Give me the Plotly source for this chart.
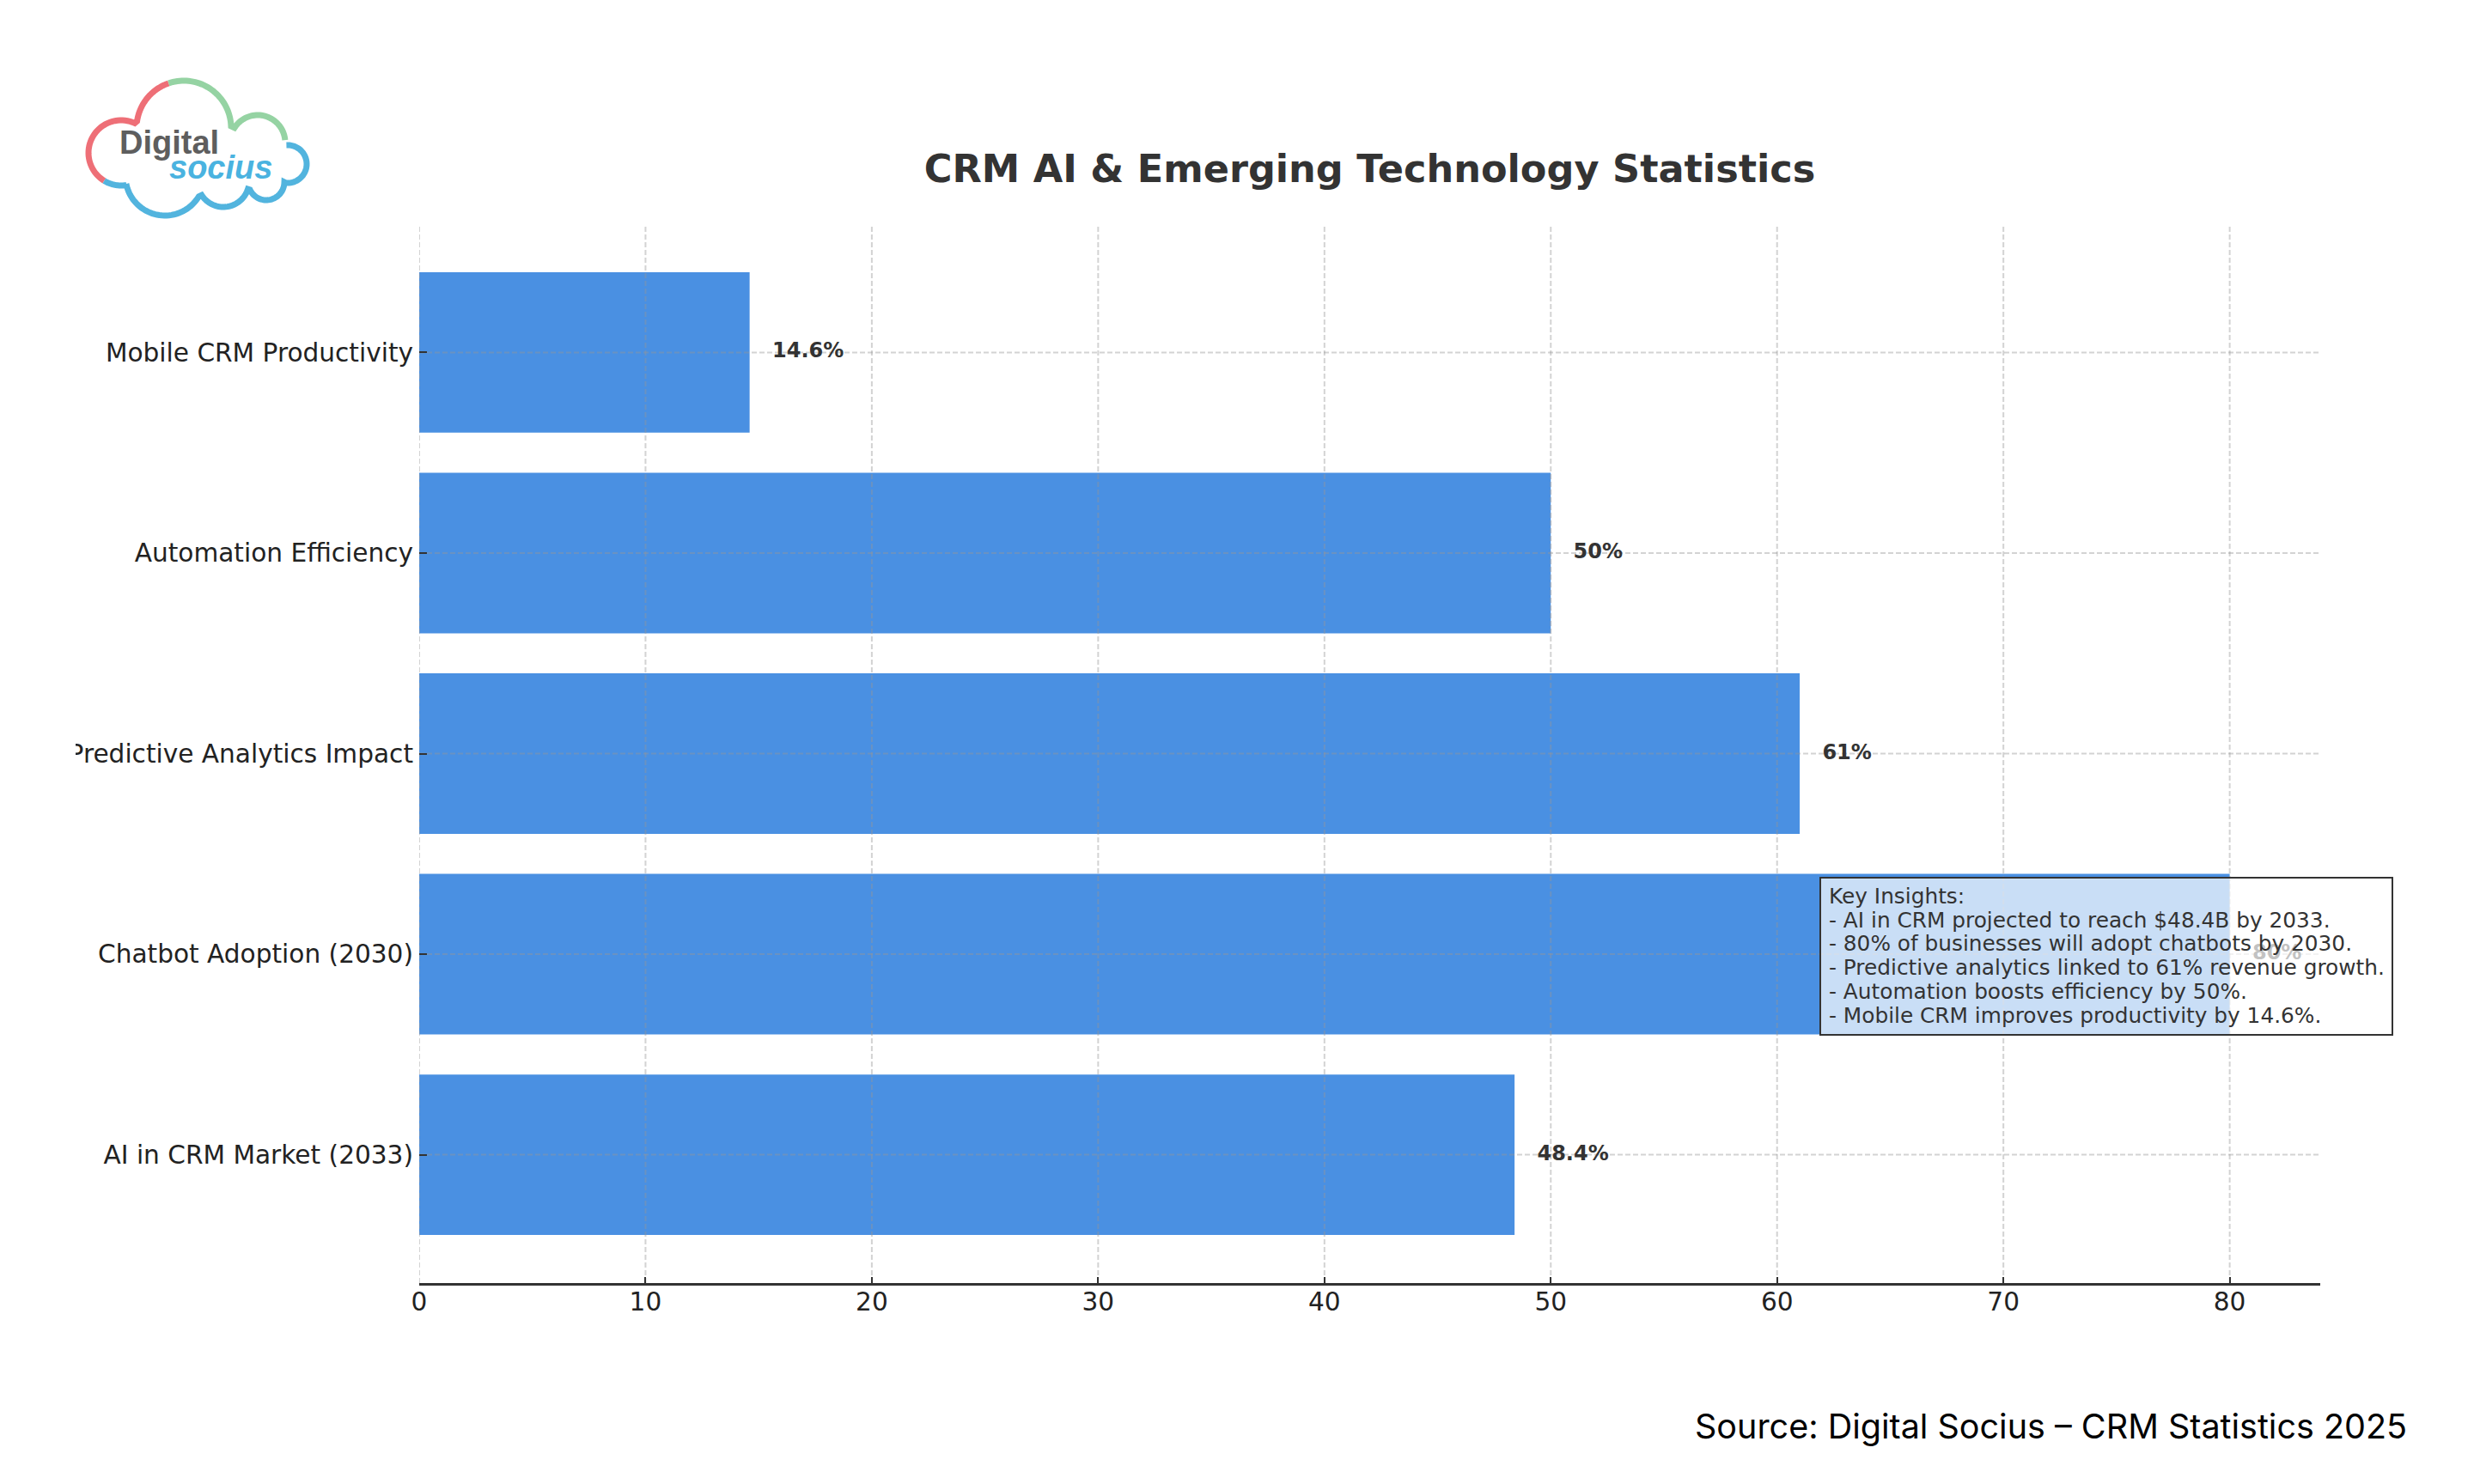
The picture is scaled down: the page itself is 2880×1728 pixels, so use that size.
import numpy as np
import plotly.graph_objects as go

# ---------------- data ----------------
categories = [
    "AI in CRM Market (2033)",
    "Chatbot Adoption (2030)",
    "Predictive Analytics Impact",
    "Automation Efficiency",
    "Mobile CRM Productivity",
]
values = [48.4, 80, 61, 50, 14.6]
x_ticks = [0, 10, 20, 30, 40, 50, 60, 70, 80]
title_text = "CRM AI & Emerging Technology Statistics"
insight_lines = [
    "Key Insights:",
    "- AI in CRM projected to reach $48.4B by 2033.",
    "- 80% of businesses will adopt chatbots by 2030.",
    "- Predictive analytics linked to 61% revenue growth.",
    "- Automation boosts efficiency by 50%.",
    "- Mobile CRM improves productivity by 14.6%.",
]
source_text = "Source: Digital Socius \u2013 CRM Statistics 2025"

# ---------------- layout geometry ----------------
W, H = 2880, 1728
L, R, T, B = 488, 179, 261, 234
PW = W - L - R
PH = H - T - B


def px(x):
    return (x - L) / PW


def py(y):
    return (H - B - y) / PH


n = len(categories)
y_pos = list(range(n))
bar_w = 0.8
x_max = max(values) * 1.05
span = (n - 1) + bar_w
y_lo = -bar_w / 2 - 0.05 * span
y_hi = (n - 1) + bar_w / 2 + 0.05 * span

BAR = "#4A90E2"
TXT = "#333333"

fig = go.Figure()

fig.add_trace(go.Bar(
    x=values, y=y_pos, orientation="h", width=bar_w,
    marker=dict(color=BAR, line=dict(width=0)),
    hoverinfo="skip", showlegend=False,
))

# grid drawn above the bars (as in the reference)
gx, gy = [], []
for v in x_ticks:
    gx += [v, v, None]
    gy += [y_lo, y_hi, None]
for p in y_pos:
    gx += [0, x_max, None]
    gy += [p, p, None]
fig.add_trace(go.Scatter(
    x=gx, y=gy, mode="lines",
    line=dict(color="rgba(150,150,150,0.42)", width=2, dash="6px,3px"),
    hoverinfo="skip", showlegend=False,
))

# value labels
fig.add_trace(go.Scatter(
    x=[v + 1 for v in values], y=y_pos, mode="text",
    text=[f"{v:g}%" for v in values],
    textposition="middle right",
    textfont=dict(family="DejaVu Sans", size=24, color=TXT, weight="bold"),
    hoverinfo="skip", showlegend=False, cliponaxis=False,
))

shapes = []
annotations = []

# insights box (semi-transparent, above bars and labels)
shapes.append(dict(
    type="rect", xref="paper", yref="paper", layer="above",
    x0=px(2119), x1=px(2785), y0=py(1205), y1=py(1022),
    fillcolor="rgba(255,255,255,0.7)", line=dict(color="#333333", width=2),
))
line_gap = 27.7
for i, s in enumerate(insight_lines):
    base = 1052 + i * line_gap
    annotations.append(dict(
        xref="paper", yref="paper", x=px(2127), y=py(base - 8.5),
        xanchor="left", yanchor="middle", showarrow=False, text=s,
        font=dict(family="DejaVu Sans", size=24.8, color=TXT),
    ))

# cropped left edge of the original image
shapes.append(dict(
    type="rect", xref="paper", yref="paper", layer="above",
    x0=px(-5), x1=px(88), y0=py(H + 5), y1=py(-5),
    fillcolor="white", line=dict(width=0),
))

# ---------------- logo (cloud) ----------------
def ang(c, p):
    return np.arctan2(p[1] - c[1], p[0] - c[0])


def arc(c, r, p0, p1, k=40):
    a0, a1 = ang(c, p0), ang(c, p1)
    while a1 <= a0:
        a1 += 2 * np.pi
    t = np.linspace(a0, a1, k)
    return [(c[0] + r * np.cos(a), c[1] + r * np.sin(a)) for a in t]


C_left, r_left = (141, 178), 38
C_top, r_top = (214, 149), 55
C_rt, r_rt = (300, 166), 32
C_r, r_r = (335, 191), 22
C_br, r_br = (310, 212), 21
C_bm, r_bm = (260, 211), 30
C_bl, r_bl = (192, 205), 46

J1, J2, J3 = (158, 141), (270, 147), (333, 163)
J4, J5, J6, J7 = (333, 212), (291, 221), (232, 229), (147, 214)
red_start, red_end = (121, 211), (196, 96)

red = arc(C_left, r_left, red_start, J1) + arc(C_top, r_top, J1, red_end)
green = arc(C_top, r_top, red_end, J2) + arc(C_rt, r_rt, J2, J3)
blue = (arc(C_r, r_r, J3, J4) + arc(C_br, r_br, J4, J5) + arc(C_bm, r_bm, J5, J6)
        + arc(C_bl, r_bl, J6, J7) + arc(C_left, r_left, J7, red_start))


def path_of(pts):
    return "M " + " L ".join(f"{px(x):.5f},{py(y):.5f}" for x, y in pts)


for pts, col in [(red, "#EE6F77"), (green, "#95D3A3"), (blue, "#52B4DE")]:
    shapes.append(dict(
        type="path", xref="paper", yref="paper", layer="above",
        path=path_of(pts), line=dict(color=col, width=7),
    ))

annotations.append(dict(
    xref="paper", yref="paper", x=px(137), y=py(166), xanchor="left", yanchor="middle",
    showarrow=False, text="<b>Digital</b>",
    font=dict(family="Liberation Sans", size=38, color="#5E5E5E"),
))
annotations.append(dict(
    xref="paper", yref="paper", x=px(195), y=py(195), xanchor="left", yanchor="middle",
    showarrow=False, text="<b><i>socius</i></b>",
    font=dict(family="Liberation Sans", size=38, color="#4AB3E0"),
))

# source
annotations.append(dict(
    xref="paper", yref="paper", x=px(2804), y=py(1661), xanchor="right", yanchor="middle",
    showarrow=False, text=source_text,
    font=dict(family="Inter", size=39.5, color="#000000"),
))

fig.update_layout(
    width=W, height=H,
    margin=dict(l=L, r=R, t=T, b=B, pad=0),
    paper_bgcolor="white", plot_bgcolor="white",
    title=dict(
        text=title_text, x=0.5, xref="paper", xanchor="center",
        y=1 - 196 / H, yref="container", yanchor="middle",
        font=dict(family="DejaVu Sans", size=44.6, color=TXT, weight="bold"),
    ),
    xaxis=dict(
        range=[0, x_max], tickvals=x_ticks, ticktext=[str(v) for v in x_ticks],
        showgrid=False, zeroline=False, showline=True, linecolor="#333333", linewidth=2.5,
        ticks="inside", ticklen=7, tickwidth=2, tickcolor="#333333",
        tickfont=dict(family="DejaVu Sans", size=29.6, color="#222222"),
        ticklabelstandoff=-6,
    ),
    yaxis=dict(
        range=[y_lo, y_hi], tickvals=y_pos, ticktext=categories,
        showgrid=False, zeroline=False, showline=False,
        ticks="inside", ticklen=9, tickwidth=2, tickcolor="#333333",
        tickfont=dict(family="DejaVu Sans", size=29.6, color="#222222"),
        ticklabelstandoff=6,
    ),
    shapes=shapes, annotations=annotations,
)

fig.write_html(
    "out.html",
    config={"displayModeBar": False},
    post_script="document.body.style.margin='0px';",
)
